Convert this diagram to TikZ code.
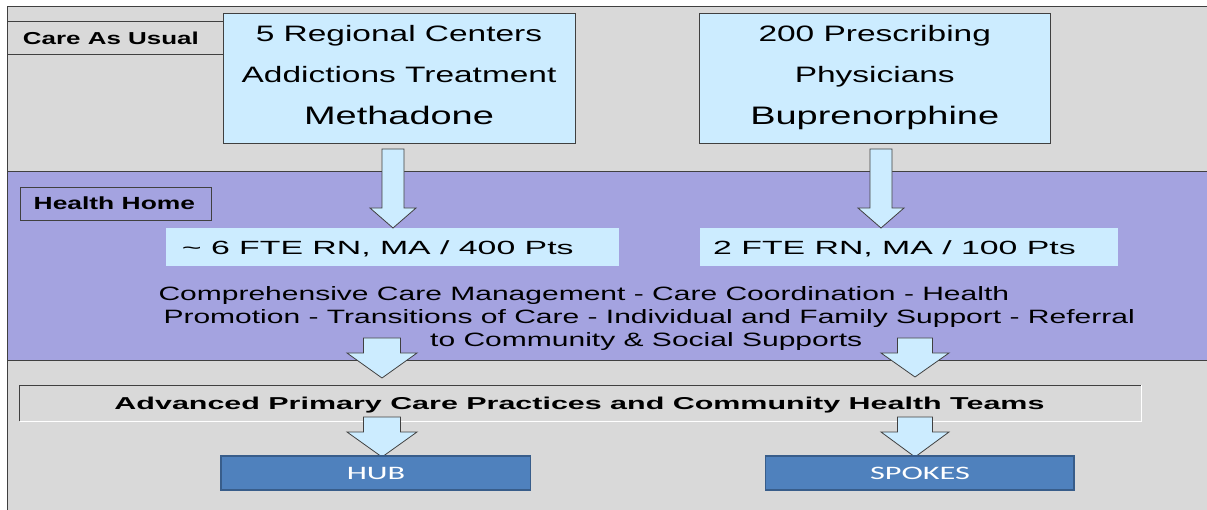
\documentclass[tikz,border=0pt]{standalone}
\usepackage{fontspec}
\setmainfont{Liberation Sans}
\newfontfamily\fA[FakeStretch=1.5]{Liberation Sans}
\newfontfamily\fB[FakeStretch=1.77]{Liberation Sans}
\newfontfamily\fC[FakeStretch=1.555]{Liberation Sans}
\newfontfamily\fD[FakeStretch=1.7]{Carlito}
\definecolor{bggray}{RGB}{217,217,217}
\definecolor{hhpurple}{RGB}{164,163,224}
\definecolor{lblue}{RGB}{204,236,255}
\definecolor{hubblue}{RGB}{79,129,189}
\definecolor{hubedge}{RGB}{56,93,138}
\definecolor{edge}{RGB}{64,64,64}
\newcommand\myarrow[6]{%
  \draw[blockarrow] ({#1-#5},#2) -- ({#1+#5},#2) -- ({#1+#5},#3) -- ({#1+#6},#3)
    -- (#1,#4) -- ({#1-#6},#3) -- ({#1-#5},#3) -- cycle;}
\begin{document}
\begin{tikzpicture}[x=1pt,y=-1pt,
  frame/.style={draw=edge,line width=1pt},
  lbox/.style={draw=edge,fill=lblue,line width=1pt,inner sep=0pt},
  ftebox/.style={fill=lblue,inner sep=0pt},
  hubbox/.style={draw=hubedge,fill=hubblue,line width=1.5pt,inner sep=0pt},
  txt/.style={inner sep=0pt,text=black},
  blockarrow/.style={draw=edge,fill=lblue,line width=0.8pt,line join=miter}]
\useasboundingbox (0,0) rectangle (1207,510);
\fill[white] (0,0) rectangle (1207,510);
% backgrounds
\fill[bggray] (7,7) rectangle (1207,510);
\fill[hhpurple] (7,172) rectangle (1207,361);
\draw[frame] (7,172) -- (1207,172);
\draw[frame] (7,361) -- (1207,361);
\draw[frame] (1207,7) -- (7,7) -- (7,510);
% Care As Usual label
\draw[frame] (7,22) -- (223,22);
\draw[frame] (7,55) -- (223,55);
\node[txt,anchor=base west] (cau) at (22.7,44.3) {\fA\bfseries\fontsize{17.3}{20}\selectfont Care As Usual};
% top boxes
\node[lbox,minimum width=352pt,minimum height=130pt] (rc) at (399,79) {};
\node[txt,anchor=base] (rc1) at (399,42) {\fA\fontsize{22.3}{26}\selectfont 5 Regional Centers};
\node[txt,anchor=base] (rc2) at (399,83) {\fA\fontsize{22.3}{26}\selectfont Addictions Treatment};
\node[txt,anchor=base] (rc3) at (399,125) {\fA\fontsize{25.3}{30}\selectfont Methadone};
\node[lbox,minimum width=350.5pt,minimum height=130pt] (pp) at (874.75,79) {};
\node[txt,anchor=base] (pp1) at (874.75,42) {\fA\fontsize{22.3}{26}\selectfont 200 Prescribing};
\node[txt,anchor=base] (pp2) at (874.75,83) {\fA\fontsize{22.3}{26}\selectfont Physicians};
\node[txt,anchor=base] (pp3) at (874.75,125) {\fA\fontsize{25.3}{30}\selectfont Buprenorphine};
% Health Home
\node[draw=edge,line width=1pt,minimum width=191pt,minimum height=33pt,inner sep=0pt] (hhbox) at (115.5,204.5) {};
\node[txt,anchor=base west] (hh) at (33.5,210) {\fA\bfseries\fontsize{17.6}{20}\selectfont Health Home};
% FTE boxes
\node[ftebox,minimum width=453pt,minimum height=38pt] (fte1) at (392.5,247) {};
\node[txt,anchor=base west] (fte1t) at (181.7,255) {\fB\fontsize{19.1}{22}\selectfont \textasciitilde{} 6 FTE RN, MA / 400 Pts};
\node[ftebox,minimum width=418pt,minimum height=38pt] (fte2) at (909,247) {};
\node[txt,anchor=base west] (fte2t) at (713,255) {\fB\fontsize{19.1}{22}\selectfont 2 FTE RN, MA / 100 Pts};
% services text
\node[txt,anchor=base west] (s1) at (158.3,301) {\fC\fontsize{19.3}{22}\selectfont Comprehensive Care Management - Care Coordination - Health};
\node[txt,anchor=base west] (s2) at (163.3,324) {\fC\fontsize{19.3}{22}\selectfont Promotion - Transitions of Care - Individual and Family Support - Referral};
\node[txt,anchor=base west] (s3) at (430,347) {\fC\fontsize{19.3}{22}\selectfont to Community \& Social Supports};
% arrows top
\myarrow{393}{149}{208}{228}{11}{23}
\myarrow{881}{149}{208}{228}{11}{23}
% Advanced box
\fill[bggray] (19.6,385) rectangle (1141,421);
\draw[white,line width=1pt] (19.6,421) -- (1141,421) -- (1141,385);
\draw[edge,line width=1pt] (19.6,421) -- (19.6,385) -- (1141,385);
\node[txt,anchor=base] (apct) at (579.5,409) {\fB\bfseries\fontsize{17.2}{20}\selectfont Advanced Primary Care Practices and Community Health Teams};
% arrows middle
\myarrow{382}{338}{353}{378}{18.5}{35}
\myarrow{915}{338}{353}{377}{17.5}{34}
% arrows bottom
\myarrow{382}{417}{432}{457}{18.5}{35}
\myarrow{915}{417}{432}{457}{17.5}{34}
% HUB / SPOKES
\node[hubbox,minimum width=309.6pt,minimum height=34pt] (hub) at (375.8,473) {};
\node[txt,anchor=base,text=white] (hubt) at (376,479) {\fD\fontsize{19}{22}\selectfont HUB};
\node[hubbox,minimum width=308.3pt,minimum height=34pt] (spokes) at (919.85,473) {};
\node[txt,anchor=base,text=white] (spokest) at (920,479) {\fD\fontsize{19}{22}\selectfont SPOKES};
\end{tikzpicture}
\end{document}
